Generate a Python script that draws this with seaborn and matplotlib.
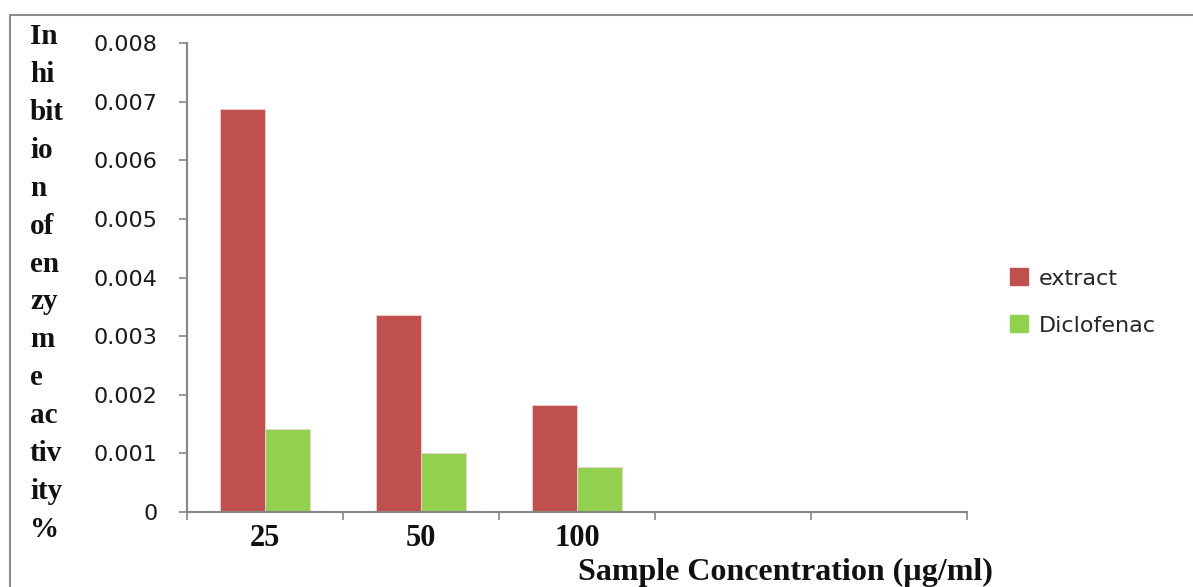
"""
Enzyme inhibition bar chart - extract vs Diclofenac at three sample concentrations.
"""

import matplotlib
matplotlib.use("Agg")
import matplotlib.pyplot as plt
import matplotlib.patches as mpatches
import numpy as np
import pandas as pd
import seaborn as sns

# data
concentrations = ["25", "50", "100"]
extract_vals = [0.00688, 0.00336, 0.00182]
diclofenac_vals = [0.00142, 0.00100, 0.00077]
series_names = ["extract", "Diclofenac"]
yticks = [0, 0.001, 0.002, 0.003, 0.004, 0.005, 0.006, 0.007, 0.008]
ytick_labels = ["0", "0.001", "0.002", "0.003", "0.004", "0.005", "0.006", "0.007", "0.008"]
ylabel_chunks = ["In", "hi", "bit", "io", "n", "of", "en", "zy", "m", "e", "ac", "tiv", "ity", "%"]
n_slots = 5  # Excel axis has two empty categories at the end

df = pd.DataFrame({
    "conc": concentrations * 2,
    "value": extract_vals + diclofenac_vals,
    "series": [series_names[0]] * 3 + [series_names[1]] * 3,
})

sns.set_style("white")
serif = ["Liberation Serif", "DejaVu Serif"]
sans = ["DejaVu Sans"]

fig = plt.figure(figsize=(11.93, 5.87), dpi=100)
ax = fig.add_axes([187 / 1193, 1 - 512 / 587, (967 - 187) / 1193, (512 - 43) / 587])

palette = {"extract": "#C0504D", "Diclofenac": "#92D050"}
sns.barplot(data=df, x="conc", y="value", hue="series", order=concentrations,
            hue_order=series_names, palette=palette, width=2 / 3.5,
            edgecolor="#f2d0cf", linewidth=0.6, saturation=1, ax=ax, legend=False)

ax.set_xlim(-0.5, n_slots - 0.5)
ax.set_ylim(0, 0.008)

# y axis
ax.set_yticks(yticks)
ax.set_yticklabels(ytick_labels, fontsize=16, family=sans, color="#1a1a1a")
# x axis: tick marks on category boundaries, labels at centres
ax.set_xticks(np.arange(n_slots + 1) - 0.5)
ax.set_xticklabels([""] * (n_slots + 1))
ax.set_xticks(np.arange(len(concentrations)), minor=True)
ax.set_xticklabels(concentrations, minor=True, fontsize=22, fontweight="bold",
                   family=serif, color="#111111")
ax.tick_params(axis="x", which="minor", length=0, pad=9, bottom=True)
ax.tick_params(axis="both", which="major", direction="out", length=6, width=1.2,
               color="#868686", bottom=True, left=True)
ax.tick_params(axis="y", pad=15)

for side in ["top", "right"]:
    ax.spines[side].set_visible(False)
for side in ["left", "bottom"]:
    ax.spines[side].set_color("#868686")
    ax.spines[side].set_linewidth(1.5)

ax.set_xlabel("")
ax.set_ylabel("")

# stacked y label, as in the original
fig.text(30 / 1193, 1 - 23 / 587, "\n".join(ylabel_chunks), ha="left", va="top",
         fontsize=21, fontweight="bold", family=serif, linespacing=1.52, color="#111111")

fig.text(785 / 1193, 1 - 572 / 587, "Sample Concentration (\u00b5g/ml)", ha="center",
         va="center", fontsize=23, fontweight="bold", family=serif, color="#111111")

# legend
handles = [mpatches.Patch(color=palette[s], label=s) for s in series_names]
fig.legend(handles=handles, loc="center left", bbox_to_anchor=(990 / 1193, 1 - 302 / 587),
           frameon=False, prop={"family": sans, "size": 16}, handlelength=0.8,
           handleheight=0.8, handletextpad=0.5, labelspacing=1.2)

# outer chart border
fig.patches.append(mpatches.Rectangle((10 / 1193, -0.1), 1.2, 1 - 15 / 587 + 0.1,
                                      transform=fig.transFigure, fill=False,
                                      edgecolor="#8c8c8c", linewidth=1.5))

fig.savefig("out.png", dpi=100)
plt.close(fig)
